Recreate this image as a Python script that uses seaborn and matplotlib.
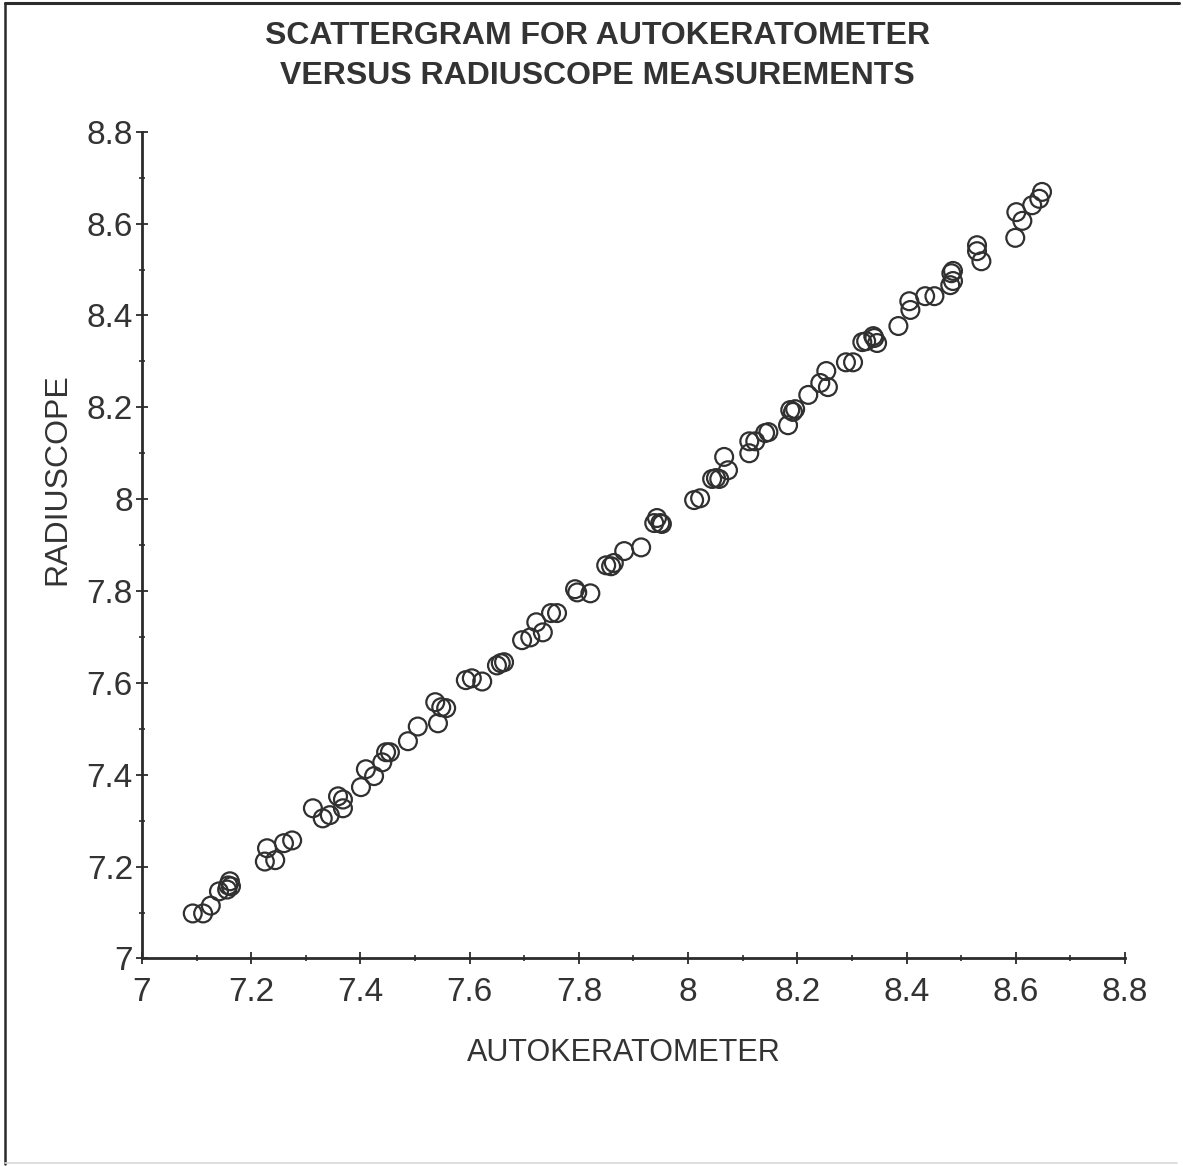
import matplotlib
matplotlib.use("Agg")
import matplotlib.pyplot as plt
import seaborn as sns
import pandas as pd
from matplotlib.lines import Line2D
from matplotlib.ticker import MultipleLocator

# valores
autokeratometer = [
    7.093, 7.112, 7.126, 7.141, 7.156, 7.161, 7.163, 7.158, 7.229, 7.225,
    7.244, 7.260, 7.275, 7.313, 7.331, 7.344, 7.359, 7.368, 7.368, 7.401,
    7.410, 7.425, 7.440, 7.447, 7.454, 7.487, 7.505, 7.537, 7.542, 7.548,
    7.557, 7.593, 7.604, 7.623, 7.650, 7.657, 7.663, 7.696, 7.711, 7.722,
    7.734, 7.749, 7.760, 7.793, 7.797, 7.821, 7.850, 7.859, 7.864, 7.883,
    7.914, 7.938, 7.949, 7.943, 7.952, 8.011, 8.022, 8.044, 8.051, 8.057,
    8.066, 8.073, 8.112, 8.112, 8.123, 8.141, 8.147, 8.183, 8.187, 8.192,
    8.196, 8.220, 8.242, 8.253, 8.256, 8.289, 8.302, 8.319, 8.326, 8.339,
    8.341, 8.346, 8.385, 8.407, 8.405, 8.434, 8.451, 8.480, 8.482, 8.485,
    8.485, 8.529, 8.529, 8.537, 8.599, 8.601, 8.612, 8.630, 8.643, 8.648,
]
radiuscope = [
    7.098, 7.098, 7.115, 7.146, 7.150, 7.168, 7.157, 7.159, 7.240, 7.211,
    7.214, 7.251, 7.257, 7.327, 7.305, 7.312, 7.353, 7.327, 7.346, 7.373,
    7.412, 7.397, 7.427, 7.449, 7.449, 7.473, 7.505, 7.558, 7.512, 7.547,
    7.545, 7.606, 7.610, 7.603, 7.638, 7.643, 7.645, 7.693, 7.699, 7.732,
    7.710, 7.752, 7.752, 7.804, 7.797, 7.795, 7.856, 7.854, 7.861, 7.887,
    7.895, 7.948, 7.948, 7.959, 7.946, 7.998, 8.002, 8.044, 8.046, 8.044,
    8.092, 8.063, 8.100, 8.126, 8.126, 8.144, 8.146, 8.161, 8.194, 8.190,
    8.196, 8.227, 8.253, 8.279, 8.244, 8.298, 8.298, 8.342, 8.344, 8.355,
    8.351, 8.340, 8.377, 8.412, 8.431, 8.442, 8.442, 8.466, 8.492, 8.497,
    8.475, 8.553, 8.540, 8.518, 8.569, 8.625, 8.606, 8.640, 8.654, 8.669,
]
tick_values = [7, 7.2, 7.4, 7.6, 7.8, 8, 8.2, 8.4, 8.6, 8.8]
tick_labels = ["7", "7.2", "7.4", "7.6", "7.8", "8", "8.2", "8.4", "8.6", "8.8"]

df = pd.DataFrame({"AUTOKERATOMETER": autokeratometer, "RADIUSCOPE": radiuscope})

sns.set_style("white")
plt.rcParams["font.family"] = ["Liberation Sans", "DejaVu Sans"]
ink = "#2b2b2b"

fig = plt.figure(figsize=(11.83, 11.66), dpi=100)
ax = fig.add_axes([0.120, 0.178, 0.831, 0.709])

sns.scatterplot(data=df, x="AUTOKERATOMETER", y="RADIUSCOPE", ax=ax,
                marker="o", s=165, facecolor="none", edgecolor="#303030", linewidth=1.6)

ax.set_xlim(7, 8.8)
ax.set_ylim(7, 8.8)
ax.set_xticks(tick_values)
ax.set_xticklabels(tick_labels)
ax.set_yticks(tick_values)
ax.set_yticklabels(tick_labels)
ax.xaxis.set_minor_locator(MultipleLocator(0.1))
ax.yaxis.set_minor_locator(MultipleLocator(0.1))
ax.tick_params(which="major", direction="inout", length=9, width=1.3, colors=ink,
               labelsize=24)
ax.tick_params(axis="x", which="major", pad=9)
ax.tick_params(axis="y", which="major", pad=2)
ax.tick_params(which="minor", direction="inout", length=5, width=1.2, colors=ink)
ax.tick_params(axis="x", which="both", bottom=True)
ax.tick_params(axis="y", which="both", left=True)
for lab in ax.get_xticklabels() + ax.get_yticklabels():
    lab.set_color("#333333")

for side in ["top", "right"]:
    ax.spines[side].set_visible(False)
for side in ["left", "bottom"]:
    ax.spines[side].set_color(ink)
    ax.spines[side].set_linewidth(2)

ax.set_xlabel("AUTOKERATOMETER", fontsize=22, color="#333333")
ax.xaxis.set_label_coords(0.49, -0.096)
ax.set_ylabel("RADIUSCOPE", fontsize=23, color="#333333")
ax.yaxis.set_label_coords(-0.071, 0.58)

fig.text(0.505, 0.982, "SCATTERGRAM FOR AUTOKERATOMETER\nVERSUS RADIUSCOPE MEASUREMENTS",
         ha="center", va="top", fontsize=23, fontweight="bold",
         color="#333333", linespacing=1.45)

# moldura: só linha de cima e da esquerda aparecem na imagem
fig.add_artist(Line2D([0.004, 0.997], [0.9975, 0.9975], transform=fig.transFigure,
                      color=ink, linewidth=2.2))
fig.add_artist(Line2D([0.0045, 0.0045], [0.002, 0.9975], transform=fig.transFigure,
                      color=ink, linewidth=1.8))
fig.add_artist(Line2D([0.004, 0.995], [0.0025, 0.0025], transform=fig.transFigure,
                      color="#d8d8d8", linewidth=1.2))

fig.savefig("out.png", dpi=100)
